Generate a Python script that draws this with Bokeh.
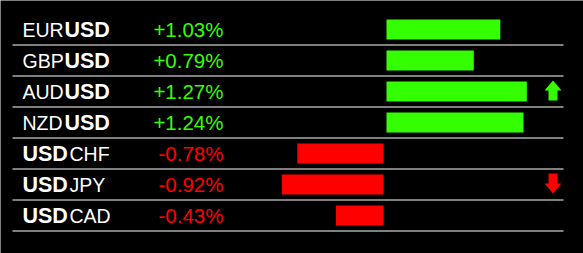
from bokeh.plotting import figure
from bokeh.models import Range1d
from bokeh.core.properties import value
from bokeh.embed import file_html
from bokeh.resources import INLINE

# ---- data ----
pairs = ["EURUSD", "GBPUSD", "AUDUSD", "NZDUSD", "USDCHF", "USDJPY", "USDCAD"]
changes = [1.03, 0.79, 1.27, 1.24, -0.78, -0.92, -0.43]
arrows = ["", "", "up", "", "", "down", ""]

# ---- style / layout ----
GREEN = "#33ff00"
RED = "#ff0000"
W, H = 583, 253
ROW0, PITCH = 29, 31          # px centre of first row, row pitch
ZERO_PX, PX_PER_PCT = 384.5, 110.5
GAP = 1.5 / PX_PER_PCT
FONT = value("Liberation Sans")
FS_NORMAL = "19.5px"
FS_BOLD = "21.5px"
FS_PCT = "20.5px"
LABEL_X = 22
NORMAL_W = 42                 # offset of bold "USD" after a 3-letter code
BOLD_W = 47                   # offset of quote code after bold "USD"
PCT_X = 223
ARROW_X = 552.5

n = len(pairs)
rows = list(range(n))

p = figure(width=W, height=H, x_range=Range1d(0, W),
           y_range=Range1d((H - ROW0) / PITCH, -ROW0 / PITCH),
           output_backend="svg", toolbar_location=None, min_border=0,
           x_axis_location=None, y_axis_location=None,
           background_fill_color="black", border_fill_color="black",
           outline_line_color=None)
p.grid.visible = False
p.extra_x_ranges = {"pct": Range1d(-ZERO_PX / PX_PER_PCT, (W - ZERO_PX) / PX_PER_PCT)}

# separators
p.segment(x0=[12] * n, x1=[563] * n, y0=[r + 0.5 for r in rows], y1=[r + 0.5 for r in rows],
          line_color="white", line_width=1)

# bars
lefts = [GAP if v > 0 else v - GAP for v in changes]
rights = [v + GAP if v > 0 else -GAP for v in changes]
colors = [GREEN if v > 0 else RED for v in changes]
p.hbar(y=rows, left=lefts, right=rights, height=20 / PITCH, fill_color=colors,
       line_color=None, x_range_name="pct")

# labels: normal part + bold USD
nx, ny, nt, bx, by, bt = [], [], [], [], [], []
for r, pr in zip(rows, pairs):
    base, quote = pr[:3], pr[3:]
    if base == "USD":
        bx.append(LABEL_X); by.append(r); bt.append("USD")
        nx.append(LABEL_X + BOLD_W); ny.append(r); nt.append(quote)
    else:
        nx.append(LABEL_X); ny.append(r); nt.append(base)
        bx.append(LABEL_X + NORMAL_W); by.append(r); bt.append("USD")
p.text(x=nx, y=ny, text=nt, text_color="white", text_font=FONT, text_font_size=FS_NORMAL,
       text_baseline="middle", text_align="left")
p.text(x=bx, y=by, text=bt, text_color="white", text_font=FONT, text_font_size=FS_BOLD,
       text_font_style="bold", text_baseline="middle", text_align="left")

# percent texts
p.text(x=[PCT_X] * n, y=rows, text=[f"{v:+.2f}%" for v in changes], text_color=colors,
       text_font=FONT, text_font_size=FS_PCT, text_baseline="middle", text_align="right")

# arrows
up_shape = [(0, -11), (8.5, -1), (4.5, -1), (4.5, 9), (-4.5, 9), (-4.5, -1), (-8.5, -1)]
xs, ys, acol = [], [], []
for r, a in zip(rows, arrows):
    if not a:
        continue
    shape = up_shape if a == "up" else [(dx, -2 - dy) for dx, dy in up_shape]
    xs.append([ARROW_X + dx for dx, dy in shape])
    ys.append([r + dy / PITCH for dx, dy in shape])
    acol.append(GREEN if a == "up" else RED)
p.patches(xs=xs, ys=ys, fill_color=acol, line_color=None)

open("out.html", "w").write(file_html(p, INLINE))
